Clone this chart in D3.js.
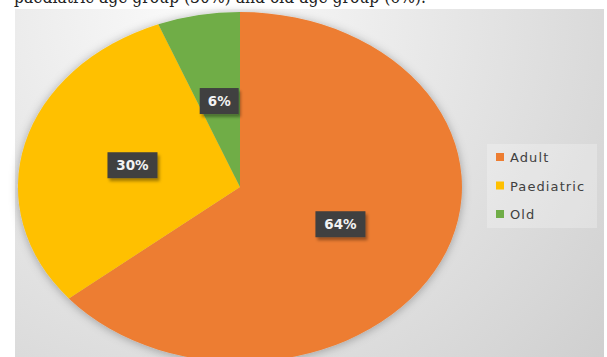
<!DOCTYPE html>
<html>
<head>
<meta charset="utf-8">
<script src="https://cdn.jsdelivr.net/npm/d3@7"></script>
<style>
  html, body { margin: 0; padding: 0; background: #fff; overflow: hidden; }
  svg { display: block; }
</style>
</head>
<body>
<div id="chart"></div>
<script>
const categories = ['Adult', 'Paediatric', 'Old'];
const values = [64, 30, 6];
const labels = ['64%', '30%', '6%'];
const captionText = 'paediatric age group (30%) and old age group (6%).';

const width = 607;
const height = 357;

const colors = d3.scaleOrdinal()
                 .domain(categories)
                 .range(['#ed7d31', '#ffc000', '#70ad47']);

const svg = d3.select('#chart')
              .append('svg')
              .attr('width', width)
              .attr('height', height);

const defs = svg.append('defs');

const bg = defs.append('radialGradient')
               .attr('id', 'bg')
               .attr('gradientUnits', 'userSpaceOnUse')
               .attr('cx', 200).attr('cy', 10).attr('r', 560);
bg.append('stop').attr('offset', '0%').attr('stop-color', '#fbfbfb');
bg.append('stop').attr('offset', '100%').attr('stop-color', '#cdcdcd');

const shadow = defs.append('filter')
                   .attr('id', 'shadow')
                   .attr('x', '-20%').attr('y', '-20%')
                   .attr('width', '140%').attr('height', '140%');
shadow.append('feDropShadow')
      .attr('dx', 0).attr('dy', 1)
      .attr('stdDeviation', 5)
      .attr('flood-color', '#000')
      .attr('flood-opacity', 0.3);

const boxShadow = defs.append('filter')
                      .attr('id', 'boxShadow')
                      .attr('x', '-30%').attr('y', '-30%')
                      .attr('width', '160%').attr('height', '180%');
boxShadow.append('feDropShadow')
         .attr('dx', 2).attr('dy', 3)
         .attr('stdDeviation', 1.5)
         .attr('flood-color', '#000')
         .attr('flood-opacity', 0.35);

// caption line, mostly cut off at the top
svg.append('text')
   .attr('x', 14)
   .attr('y', 3)
   .attr('font-family', 'DejaVu Serif')
   .attr('font-size', 18)
   .attr('fill', '#222')
   .attr('textLength', 412)
   .attr('lengthAdjust', 'spacingAndGlyphs')
   .text(captionText);

// chart area
svg.append('rect')
   .attr('x', 15).attr('y', 9)
   .attr('width', 589).attr('height', height - 9)
   .attr('fill', 'url(#bg)');

const cx = 240, cy = 187;
const rx = 222, ry = 175;

const pie = d3.pie().sort(null).value(d => d);
const arcs = pie(values);

const arc = d3.arc().innerRadius(0).outerRadius(1);

const pieG = svg.append('g')
                .attr('filter', 'url(#shadow)')
                .append('g')
                .attr('transform', `translate(${cx},${cy}) scale(${rx},${ry})`);

pieG.selectAll('path')
    .data(arcs)
    .enter().append('path')
    .attr('d', arc)
    .attr('fill', (d, i) => colors(categories[i]));

const labelArc = d3.arc().innerRadius(0.5).outerRadius(0.5);

const labelG = svg.selectAll('.slice-label')
                  .data(arcs)
                  .enter().append('g')
                  .attr('class', 'slice-label')
                  .attr('transform', d => {
                      const [x, y] = labelArc.centroid(d);
                      return `translate(${cx + x * rx},${cy + y * ry})`;
                  });

labelG.append('rect')
      .attr('x', (d, i) => labels[i].length > 2 ? -25 : -19.5)
      .attr('y', -13)
      .attr('width', (d, i) => labels[i].length > 2 ? 50 : 39)
      .attr('height', 26)
      .attr('fill', '#3f3f3f')
      .attr('filter', 'url(#boxShadow)');

labelG.append('text')
      .attr('text-anchor', 'middle')
      .attr('y', 5)
      .attr('font-family', 'DejaVu Sans')
      .attr('font-weight', 'bold')
      .attr('font-size', 13.5)
      .attr('fill', '#f2f2f2')
      .text((d, i) => labels[i]);

// legend
svg.append('rect')
   .attr('x', 487).attr('y', 144)
   .attr('width', 110).attr('height', 84)
   .attr('fill', '#ffffff')
   .attr('opacity', 0.25);

const legendItems = svg.selectAll('.legend-item')
                       .data(categories)
                       .enter().append('g')
                       .attr('class', 'legend-item')
                       .attr('transform', (d, i) => `translate(496,${157 + i * 28.5})`);

legendItems.append('rect')
           .attr('x', 0).attr('y', -4)
           .attr('width', 8).attr('height', 8)
           .attr('fill', d => colors(d));

legendItems.append('text')
           .attr('x', 14)
           .attr('y', 5)
           .attr('font-family', 'DejaVu Sans')
           .attr('font-size', 13)
           .attr('letter-spacing', 1.1)
           .attr('fill', '#404040')
           .text(d => d);
</script>
</body>
</html>
